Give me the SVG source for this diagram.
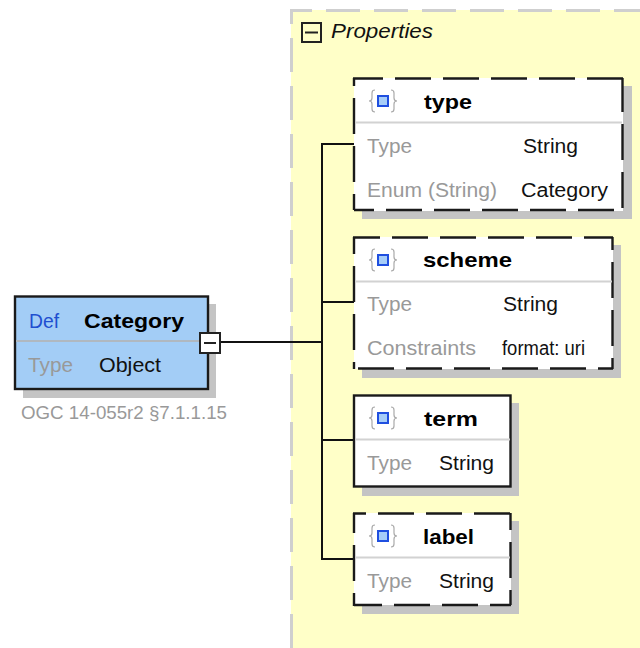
<svg xmlns="http://www.w3.org/2000/svg" width="640" height="648" viewBox="0 0 640 648">
<style>
text{font-family:"Liberation Sans","DejaVu Sans",sans-serif;font-size:20px;fill:#111}
.b{font-weight:bold;font-size:21px;fill:#000}
.g{fill:#999}
.s{fill:#c4c4c4}
.n{fill:#fff;stroke:none}
.o{fill:none;stroke:#222;stroke-width:2}
.d{fill:none;stroke:#1a1a1a;stroke-width:2.4;stroke-dasharray:36 12}
.div{stroke:#d2d2d2;stroke-width:2}
.c{fill:none;stroke:#111;stroke-width:2}
.br{fill:none;stroke:#aaa;stroke-width:1.2}
.i{fill:#a6cdf8;stroke:#1f4fe0;stroke-width:2}
</style>
<defs>
<g id="icon">
<path class="br" d="M9 0q-3 0-3 3v5q0 3-3 3q3 0 3 3v5q0 3 3 3M25 0q3 0 3 3v5q0 3 3 3q-3 0-3 3v5q0 3-3 3"/>
<rect class="i" x="12" y="6" width="10" height="10"/>
</g>
</defs>
<g id="properties">
<rect x="291" y="10" width="349" height="638" fill="#ffffc8"/>
<path d="M291.500 648V10.500H640" fill="none" stroke="#cfcfcf" stroke-width="3" stroke-dasharray="34 14"/>
<rect x="302" y="23" width="19" height="19" class="o"/>
<path d="M305 32.500h13" stroke="#222" stroke-width="2"/>
<text x="331" y="38" textLength="102" lengthAdjust="spacingAndGlyphs" style="font-style:italic">Properties</text>
</g>
<g id="connectors">
<path class="c" d="M220 342H322M354 144H322V559H354M322 302H354M322 440H354"/>
</g>
<g id="category">
<rect class="s" x="23" y="304" width="193" height="94"/>
<rect x="15" y="296.500" width="193" height="92.500" fill="#a3cdf6" stroke="#1a1a1a" stroke-width="2.400"/>
<path d="M16 341H207" stroke="#b0b8c0" stroke-width="2"/>
<text x="29" y="328" style="fill:#1f4fd0" textLength="30" lengthAdjust="spacingAndGlyphs">Def</text>
<text class="b" x="84" y="328" textLength="100" lengthAdjust="spacingAndGlyphs">Category</text>
<text class="g" x="28" y="372" textLength="45" lengthAdjust="spacingAndGlyphs">Type</text>
<text x="99" y="372" textLength="62" lengthAdjust="spacingAndGlyphs">Object</text>
<rect x="200" y="333" width="20" height="20" fill="#fff" stroke="#222" stroke-width="2"/>
<path d="M204 343h12" stroke="#222" stroke-width="2"/>
<text class="g" x="21" y="419" style="font-size:18px" textLength="206" lengthAdjust="spacingAndGlyphs">OGC 14-055r2 §7.1.1.15</text>
</g>
<g id="type">
<rect class="s" x="362" y="86" width="270" height="133"/>
<rect class="n" x="354" y="78" width="269" height="133"/>
<path class="d" d="M353 78.500H623" stroke-dashoffset="6"/>
<path class="d" d="M622.500 78V210" stroke-dashoffset="2"/>
<path class="d" d="M623 210H354" stroke-dashoffset="39"/>
<path class="d" d="M354 78V210" stroke-dashoffset="28"/>
<path class="div" d="M355 122.500H622"/>
<use href="#icon" x="366" y="90"/>
<text class="b" x="424" y="109" textLength="48" lengthAdjust="spacingAndGlyphs">type</text>
<text class="g" x="367" y="153" textLength="45" lengthAdjust="spacingAndGlyphs">Type</text>
<text x="523" y="153" textLength="55" lengthAdjust="spacingAndGlyphs">String</text>
<text class="g" x="367" y="197" textLength="130" lengthAdjust="spacingAndGlyphs">Enum (String)</text>
<text x="521" y="197" textLength="87" lengthAdjust="spacingAndGlyphs">Category</text>
</g>
<g id="scheme">
<rect class="s" x="362" y="245" width="259" height="133"/>
<rect class="n" x="354" y="237" width="259" height="132"/>
<path class="d" d="M353 237.500H613" stroke-dashoffset="9"/>
<path class="d" d="M612.500 237V369" stroke-dashoffset="23"/>
<path class="d" d="M613 368.500H354" stroke-dashoffset="21"/>
<path class="d" d="M354 369V237" stroke-dashoffset="29"/>
<path class="div" d="M355 281.500H612"/>
<use href="#icon" x="366" y="249"/>
<text class="b" x="423" y="267" textLength="89" lengthAdjust="spacingAndGlyphs">scheme</text>
<text class="g" x="367" y="311" textLength="45" lengthAdjust="spacingAndGlyphs">Type</text>
<text x="503" y="311" textLength="55" lengthAdjust="spacingAndGlyphs">String</text>
<text class="g" x="367" y="355" textLength="109" lengthAdjust="spacingAndGlyphs">Constraints</text>
<text x="502" y="355" textLength="83" lengthAdjust="spacingAndGlyphs">format: uri</text>
</g>
<g id="term">
<rect class="s" x="362" y="403" width="157" height="93"/>
<rect x="354" y="395.500" width="156.500" height="91" fill="#fff" stroke="#1a1a1a" stroke-width="2.400"/>
<path class="div" d="M355 439.500H510"/>
<use href="#icon" x="366" y="407"/>
<text class="b" x="424" y="426" textLength="54" lengthAdjust="spacingAndGlyphs">term</text>
<text class="g" x="367" y="470" textLength="45" lengthAdjust="spacingAndGlyphs">Type</text>
<text x="439" y="470" textLength="55" lengthAdjust="spacingAndGlyphs">String</text>
</g>
<g id="label">
<rect class="s" x="362" y="521" width="157" height="93"/>
<rect class="n" x="354" y="513" width="157" height="92"/>
<path class="d" d="M353 513.500H511" stroke-dashoffset="23"/>
<path class="d" d="M510.500 513V605" stroke-dashoffset="19"/>
<path class="d" d="M511 605H354" stroke-dashoffset="15"/>
<path class="d" d="M354 606V513" stroke-dashoffset="23"/>
<path class="div" d="M355 557.500H510"/>
<use href="#icon" x="366" y="525"/>
<text class="b" x="423" y="544" textLength="51" lengthAdjust="spacingAndGlyphs">label</text>
<text class="g" x="367" y="588" textLength="45" lengthAdjust="spacingAndGlyphs">Type</text>
<text x="439" y="588" textLength="55" lengthAdjust="spacingAndGlyphs">String</text>
</g>
</svg>
